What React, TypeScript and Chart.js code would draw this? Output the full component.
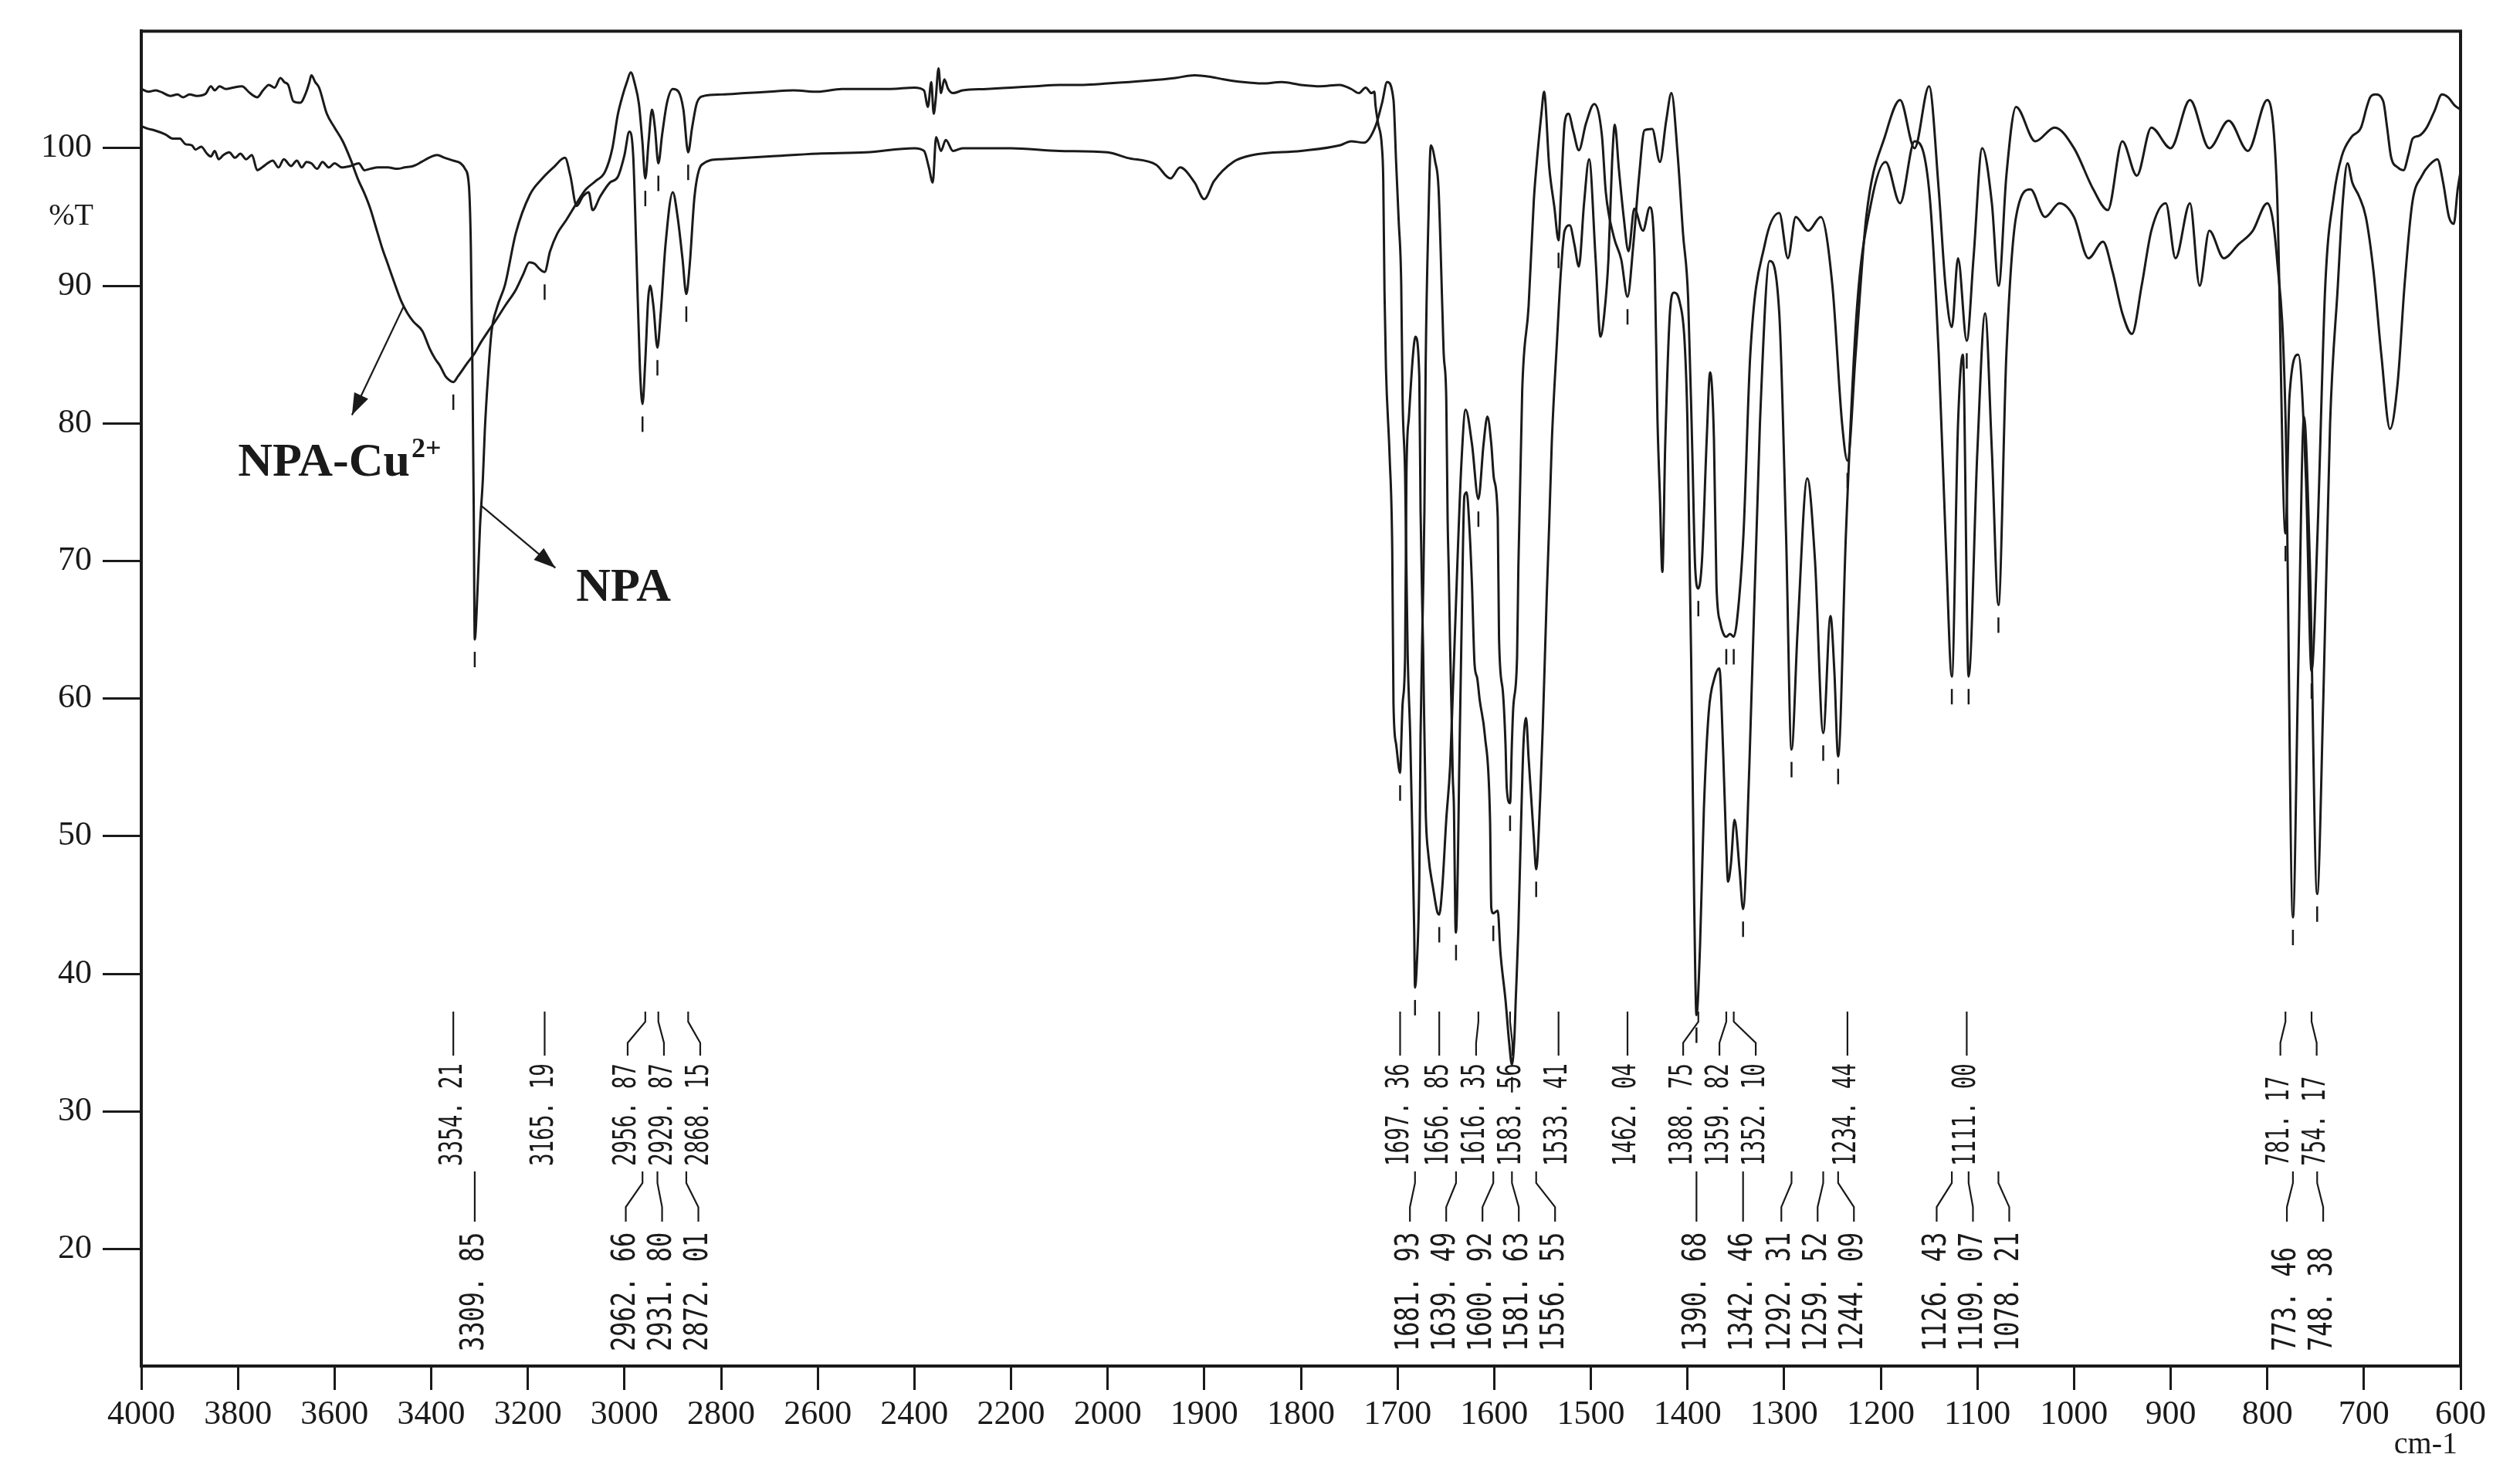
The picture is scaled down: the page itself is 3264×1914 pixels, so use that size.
import React, { useEffect, useRef } from "react";
import { Chart, registerables } from "chart.js";

Chart.register(...registerables);

// ---------- axis ticks ----------
const X_TICKS_WN = [4000, 3800, 3600, 3400, 3200, 3000, 2800, 2600, 2400, 2200, 2000, 1900, 1800, 1700, 1600, 1500, 1400, 1300, 1200, 1100, 1000, 900, 800, 700, 600];
const Y_TICKS = [20, 30, 40, 50, 60, 70, 80, 90, 100];

// ---------- series: [wavenumber cm-1, %T] ----------
const NPA_CU: [number, number][] = [
  [4000, 104.3], [3985, 104.1], [3970, 104.2], [3957, 104.05], [3940, 103.8], [3925, 103.9], [3914, 103.7], [3900, 103.9],
  [3885, 103.8], [3867, 103.95], [3856, 104.5], [3848, 104.2], [3838, 104.5], [3825, 104.3], [3810, 104.4], [3792, 104.5],
  [3775, 104.0], [3760, 103.7], [3748, 104.2], [3736, 104.6], [3724, 104.4], [3712, 105.1], [3704, 104.8], [3696, 104.6],
  [3685, 103.4], [3671, 103.3], [3659, 104.05], [3652, 104.8], [3648, 105.3], [3640, 104.8], [3632, 104.4], [3616, 102.5],
  [3600, 101.5], [3583, 100.5], [3567, 99.2], [3551, 97.7], [3538, 96.7], [3526, 95.6], [3514, 94.2], [3502, 92.8],
  [3490, 91.6], [3478, 90.4], [3461, 88.8], [3449, 88.0], [3437, 87.4], [3418, 86.7], [3404, 85.5], [3392, 84.7],
  [3382, 84.2], [3370, 83.4], [3361, 83.1], [3354.21, 83.0], [3345, 83.4], [3325, 84.4], [3310, 85.1], [3297, 85.9],
  [3282, 86.7], [3268, 87.4], [3246, 88.6], [3225, 89.7], [3210, 90.8], [3197, 91.7], [3186, 91.6], [3175, 91.2],
  [3165.19, 91.0], [3154, 92.5], [3139, 93.8], [3120, 94.8], [3099, 96.0], [3080, 97.0], [3060, 97.6], [3040, 98.3],
  [3025, 100.0], [3014, 102.4], [3004, 103.8], [2995, 104.8], [2987, 105.5], [2978, 104.6], [2970, 103.2], [2963, 100.5],
  [2956.87, 97.8], [2950, 100.5], [2943, 102.8], [2937, 101.5], [2929.87, 98.9], [2922, 101], [2912, 103.3], [2900, 104.3],
  [2888, 104.1], [2878, 102.8], [2868.15, 99.7], [2860, 101.5], [2850, 103.3], [2835, 103.8], [2800, 103.9], [2750, 104.0],
  [2700, 104.1], [2650, 104.2], [2600, 104.1], [2550, 104.3], [2500, 104.3], [2450, 104.3], [2400, 104.4], [2380, 104.2],
  [2372, 103.0], [2365, 104.8], [2360, 102.5], [2356, 103.5], [2350, 105.8], [2345, 104.0], [2338, 105.0], [2330, 104.3],
  [2320, 104.0], [2300, 104.2], [2250, 104.3], [2200, 104.4], [2150, 104.5], [2100, 104.6], [2050, 104.6], [2000, 104.7],
  [1960, 104.9], [1930, 105.1], [1910, 105.3], [1895, 105.2], [1880, 105.0], [1860, 104.8], [1840, 104.7], [1820, 104.8],
  [1800, 104.6], [1780, 104.5], [1760, 104.6], [1748, 104.3], [1740, 104.0], [1733, 104.4], [1727, 104.0], [1724, 104.1],
  [1722.8, 103.1], [1720.1, 101.8], [1716.2, 100.1], [1714.8, 97.7], [1713.5, 89.5], [1712, 84], [1708.2, 77.6], [1705.5, 70.8],
  [1704.2, 59.6], [1701.5, 56.7], [1697.36, 54.6], [1696.2, 56.7], [1694.8, 59.6], [1692.2, 63.1], [1690.8, 76.3], [1688.2, 80.5],
  [1684, 85], [1681.5, 86.3], [1677.5, 83.4], [1676.2, 73.7], [1673.5, 63.4], [1670.9, 51.9], [1668.2, 48.7], [1662.9, 46.1],
  [1658.9, 44.5], [1656.85, 44.3], [1653.6, 46.4], [1649.6, 51.2], [1645.6, 55.1], [1642.9, 60.2], [1638, 70], [1634, 77],
  [1629.6, 81.0], [1623, 78.5], [1616.35, 74.5], [1611, 78.5], [1607, 80.5], [1603, 78.5], [1600.3, 76], [1596.3, 73.1],
  [1595, 64.4], [1591, 60.5], [1588.3, 56.7], [1587, 53.5], [1583.56, 52.4], [1581.7, 56.7], [1580.3, 59.3], [1576.3, 63.1],
  [1575, 69.5], [1571, 82.4], [1564.4, 88.5], [1559, 96.2], [1556.4, 98.6], [1551, 102.6], [1548.4, 104.1], [1543, 98.6],
  [1537.7, 95.7], [1533.41, 93.3], [1531, 96.5], [1527.1, 101.8], [1523.1, 102.5], [1518, 101.2], [1512.4, 99.85], [1505, 101.8],
  [1496.5, 103.2], [1488.5, 100.9], [1484.5, 96.8], [1476, 93.5], [1468.5, 91.9], [1462.04, 89.2], [1456, 93], [1450, 98],
  [1444.5, 101.3], [1436.5, 101.4], [1428.5, 99.0], [1422, 102], [1416.6, 104.0], [1410, 99.4], [1404.6, 93.8], [1399.3, 89.1],
  [1395, 78], [1392, 69.5], [1388.75, 68], [1385, 70], [1380, 79], [1376.6, 83.7], [1372.6, 78.9], [1370, 68.3], [1366, 65.5],
  [1362, 64.6], [1359.82, 64.5], [1356, 64.7], [1352.1, 64.5], [1348.7, 65.7], [1342, 72], [1335, 85], [1320, 93], [1305, 95.3],
  [1296, 92], [1288, 95], [1275, 94], [1262, 95], [1250, 90], [1240, 80], [1234.44, 77.3], [1226, 85], [1215, 95], [1195, 101],
  [1180, 103.5], [1165, 100], [1150, 104.5], [1140, 97], [1133, 90], [1126.43, 87], [1120, 92], [1111.0, 86], [1104, 92],
  [1095, 100], [1085, 96], [1078, 90], [1070, 98], [1060, 103], [1040, 100.5], [1020, 101.5], [1000, 100], [980, 97],
  [965, 95.5], [950, 100.5], [935, 98], [920, 101.5], [900, 100], [880, 103.5], [860, 100], [840, 102], [820, 99.8],
  [800, 103.5], [790, 97], [781.17, 72], [777, 82], [768, 85], [760, 76], [754.17, 62], [748, 72], [740, 90], [731, 96.6],
  [723, 99.4], [713, 100.8], [703, 101.5], [697, 103], [693.5, 103.7], [688, 103.9], [680, 103.4], [676, 101.5], [672, 99.4],
  [665, 98.6], [659, 98.4], [654, 99.5], [649.5, 100.7], [643, 100.9], [635, 101.5], [627, 102.7], [619.3, 103.9], [613, 103.7],
  [606, 103.1], [600, 102.8],
];

const NPA: [number, number][] = [
  [4000, 101.6], [3985, 101.4], [3973, 101.3], [3950, 101.0], [3935, 100.7], [3920, 100.7], [3909, 100.3], [3895, 100.2],
  [3888, 99.9], [3876, 100.1], [3864, 99.6], [3856, 99.4], [3848, 99.8], [3840, 99.2], [3830, 99.5], [3818, 99.7],
  [3806, 99.3], [3795, 99.6], [3783, 99.2], [3771, 99.5], [3760, 98.4], [3750, 98.6], [3739, 98.9], [3728, 99.1],
  [3716, 98.6], [3705, 99.2], [3690, 98.7], [3678, 99.1], [3668, 98.6], [3658, 99.0], [3648, 98.9], [3636, 98.5],
  [3625, 99.0], [3612, 98.6], [3600, 98.9], [3585, 98.6], [3567, 98.7], [3550, 98.9], [3538, 98.4], [3526, 98.5],
  [3510, 98.6], [3490, 98.6], [3470, 98.5], [3455, 98.6], [3437, 98.7], [3420, 99.0], [3405, 99.3], [3388, 99.5],
  [3372, 99.3], [3355, 99.1], [3339, 98.9], [3330, 98.5], [3322, 97.3], [3318, 93], [3315, 85], [3312, 74],
  [3309.85, 64.3], [3304, 68], [3299, 72.5], [3293, 76], [3289, 79.5], [3283, 83.1], [3275, 86.7], [3264, 88.4],
  [3247, 90.1], [3225, 93.8], [3196, 96.6], [3170, 97.8], [3147, 98.6], [3123, 99.3], [3112, 98.0], [3099, 95.8],
  [3086, 96.5], [3074, 96.8], [3066, 95.5], [3050, 96.5], [3030, 97.5], [3014, 97.9], [3000, 99.5], [2990, 101.2],
  [2982, 99.5], [2975, 92], [2968, 84], [2962.66, 81.4], [2957, 84.5], [2951, 89], [2947, 90], [2940, 88.5],
  [2931.8, 85.5], [2925, 88], [2915, 93], [2900, 96.8], [2890, 95], [2880, 92], [2872.01, 89.4], [2865, 91.5],
  [2855, 96.5], [2840, 98.8], [2800, 99.2], [2700, 99.4], [2600, 99.6], [2500, 99.7], [2400, 100.0], [2380, 99.8],
  [2370, 98.6], [2362, 97.5], [2355, 100.8], [2345, 99.8], [2335, 100.6], [2320, 99.8], [2300, 100.0], [2200, 100.0],
  [2100, 99.8], [2000, 99.7], [1980, 99.3], [1950, 98.8], [1935, 97.8], [1925, 98.6], [1910, 97.5], [1900, 96.3],
  [1890, 97.6], [1870, 99.0], [1850, 99.5], [1800, 99.8], [1760, 100.2], [1748, 100.5], [1734.8, 100.4], [1722.8, 101.6],
  [1716, 103.3], [1710.8, 104.8], [1704.2, 103.5], [1701.5, 99.0], [1698.8, 94.7], [1696.2, 90.1], [1694.8, 81.8],
  [1692.2, 76.3], [1690.9, 69.9], [1689.5, 63.1], [1686.9, 57.3], [1684.2, 48.3], [1682.8, 43.2], [1681.93, 39.0],
  [1680.2, 40.5], [1677.5, 47.0], [1676.2, 57.3], [1673.5, 67.9], [1672.2, 73.7], [1670.9, 84.3], [1668, 95], [1665.6, 100.2],
  [1661, 99], [1657.6, 97.1], [1653.6, 88.2], [1652.2, 85], [1649.6, 81.8], [1648.2, 73.1], [1646.9, 68.9], [1645.6, 63.8],
  [1644.2, 59.3], [1642.9, 54.4], [1641.6, 51.9], [1640.2, 43.8], [1639.49, 43.0], [1637.6, 48], [1636.3, 54.4],
  [1633.6, 65.7], [1630.9, 74.7], [1628.5, 75], [1625.6, 72.4], [1623, 68.3], [1620.3, 62.5], [1617.6, 61.5], [1615, 59.9],
  [1609.6, 57.3], [1604.3, 51.2], [1603, 44.8], [1600.92, 44.4], [1596.3, 44.6], [1593.6, 41.6], [1588.3, 38.1],
  [1584.5, 35], [1581.63, 33.4], [1579, 35.5], [1577.7, 38.1], [1575, 43.2], [1572.3, 50.6], [1569.7, 56.7], [1567, 58.6],
  [1564.4, 55.7], [1561.7, 52.8], [1559, 49.9], [1556.55, 47.6], [1552.4, 52.8], [1549.7, 58], [1545.7, 67.3], [1543, 72.8],
  [1540.4, 78.6], [1535, 86], [1531, 91], [1527.1, 94], [1521.8, 94.4], [1517, 93], [1512.4, 91.4], [1507, 96],
  [1501.8, 99.2], [1495, 91.9], [1490, 86.3], [1486, 88], [1481.8, 91.9], [1478, 99], [1475.2, 101.7], [1471, 98.5],
  [1466, 95], [1461, 92.5], [1455, 95.6], [1446, 94.0], [1439, 95.7], [1434, 91.9], [1431, 80.2], [1428.5, 74.7],
  [1426, 69.2], [1423, 78.5], [1418, 88.2], [1414, 89.5], [1408, 88.8], [1403, 86], [1400, 80], [1396, 62], [1393, 45],
  [1390.68, 37.0], [1387, 42], [1383, 52], [1378, 59], [1372, 61.5], [1367, 62.2], [1363, 56], [1360, 49.5], [1358, 46.7],
  [1355, 48], [1351.3, 51.2], [1346, 47.5], [1342.46, 44.7], [1336, 55], [1325, 80], [1315, 91.8], [1305, 88], [1298, 72],
  [1292.31, 56.3], [1286, 65], [1276, 76], [1268, 70], [1259.52, 57.5], [1252, 66], [1248, 62], [1244.09, 55.8], [1236, 72],
  [1225, 88], [1210, 96], [1195, 99], [1180, 96], [1165, 100.5], [1150, 97], [1140, 85], [1132, 70], [1126.43, 61.6],
  [1120, 80], [1115, 85], [1109.07, 61.6], [1100, 78], [1092, 88], [1085, 78], [1078.21, 66.8], [1070, 85], [1060, 95],
  [1045, 97], [1030, 95], [1015, 96], [1000, 95], [985, 92], [970, 93.2], [960, 91], [950, 88], [940, 86.5], [930, 90],
  [920, 94], [905, 96], [895, 92], [880, 96], [870, 90], [860, 94], [845, 92], [830, 93], [815, 94], [800, 96], [790, 92],
  [781, 80], [773.46, 44.1], [768, 62], [762, 80.5], [756, 70], [748.38, 45.8], [742, 60], [735, 80], [727, 90], [722, 96],
  [717, 98.9], [712, 97.5], [705, 96.5], [698, 95], [690, 91], [682, 85], [673, 79.6], [665, 83], [658, 90], [650, 96],
  [640, 98], [632, 98.8], [624, 99.2], [618, 97.5], [612, 95], [607, 94.5], [603, 97], [600, 98.3],
];

// ---------- peak picks (upper row: NPA-Cu2+, lower row: NPA) ----------
const NPA_CU_PEAKS = [3354.21, 3165.19, 2956.87, 2929.87, 2868.15, 1697.36, 1656.85, 1616.35, 1583.56, 1533.41, 1462.04, 1388.75, 1359.82, 1352.1, 1234.44, 1111.0, 781.17, 754.17];
const NPA_PEAKS = [3309.85, 2962.66, 2931.8, 2872.01, 1681.93, 1639.49, 1600.92, 1581.63, 1556.55, 1390.68, 1342.46, 1292.31, 1259.52, 1244.09, 1126.43, 1109.07, 1078.21, 773.46, 748.38];

const SERIES_LABELS = ["NPA-Cu", "NPA"];

// wavenumber axis: 4000-2000 drawn at half the scale of 2000-600
const toU = (wn: number) => (wn >= 2000 ? (4000 - wn) / 2 : 1000 + (2000 - wn));
const fromU = (u: number) => (u <= 1000 ? 4000 - 2 * u : 2000 - (u - 1000));

const toXY = (arr: [number, number][]) =>
  arr.map(([wn, t]) => ({ x: toU(wn), y: t })).sort((a, b) => a.x - b.x);

function interpT(arr: [number, number][], wn: number) {
  const pts = toXY(arr);
  const u = toU(wn);
  for (let i = 0; i < pts.length - 1; i++) {
    if (pts[i].x <= u && pts[i + 1].x >= u) {
      const f = (u - pts[i].x) / (pts[i + 1].x - pts[i].x || 1);
      return pts[i].y + f * (pts[i + 1].y - pts[i].y);
    }
  }
  return pts[pts.length - 1].y;
}

function fmtPeak(wn: number) {
  return wn.toFixed(2).replace(".", ". ");
}

function spread(xs: number[], gap: number) {
  const clusters = xs.map((x) => ({ members: [x], start: x }));
  let changed = true;
  while (changed) {
    changed = false;
    for (let i = 0; i < clusters.length - 1; i++) {
      const a = clusters[i];
      const b = clusters[i + 1];
      if (a.start + a.members.length * gap > b.start) {
        const members = a.members.concat(b.members);
        const mean = members.reduce((s, v) => s + v, 0) / members.length;
        clusters.splice(i, 2, { members, start: mean - ((members.length - 1) * gap) / 2 });
        changed = true;
        break;
      }
    }
  }
  const out: number[] = [];
  clusters.forEach((c) => c.members.forEach((_, i) => out.push(c.start + i * gap)));
  return out;
}

const INK = "#1a1a1a";

function drawArrow(ctx: CanvasRenderingContext2D, x1: number, y1: number, x2: number, y2: number) {
  ctx.beginPath();
  ctx.moveTo(x1, y1);
  ctx.lineTo(x2, y2);
  ctx.lineWidth = 2.2;
  ctx.stroke();
  const ang = Math.atan2(y2 - y1, x2 - x1);
  const L = 28, W = 10;
  ctx.beginPath();
  ctx.moveTo(x2, y2);
  ctx.lineTo(x2 - L * Math.cos(ang) + W * Math.sin(ang), y2 - L * Math.sin(ang) - W * Math.cos(ang));
  ctx.lineTo(x2 - L * Math.cos(ang) - W * Math.sin(ang), y2 - L * Math.sin(ang) + W * Math.cos(ang));
  ctx.closePath();
  ctx.fill();
}

const overlay = {
  id: "irOverlay",
  afterDraw(chart: any) {
    const { ctx, chartArea: a } = chart;
    const x = chart.scales.x;
    const y = chart.scales.y;
    ctx.save();
    ctx.strokeStyle = INK;
    ctx.fillStyle = INK;
    ctx.lineWidth = 4;
    ctx.strokeRect(a.left, a.top, a.right - a.left, a.bottom - a.top);

    // axis captions
    ctx.font = "40px 'Liberation Serif'";
    ctx.textAlign = "right";
    ctx.textBaseline = "middle";
    ctx.fillText("%T", a.left - 62, y.getPixelForValue(95));
    ctx.fillText("cm-1", a.right - 4, a.bottom + 102);

    // peak rows
    const rows = [
      { series: NPA_CU, peaks: NPA_CU_PEAKS, lt: 1310, lb: 1367, ts: 1510, size: 40, squeeze: 0.69 },
      { series: NPA, peaks: NPA_PEAKS, lt: 1517, lb: 1582, ts: 1750, size: 43, squeeze: 0.745 },
    ];
    rows.forEach((row) => {
      const px = row.peaks.map((wn) => x.getPixelForValue(toU(wn)));
      const lx = spread(px, 47);
      row.peaks.forEach((wn, i) => {
        // pick marker under the band minimum
        const py = y.getPixelForValue(interpT(row.series, wn));
        ctx.lineWidth = 2.5;
        ctx.beginPath();
        ctx.moveTo(px[i], py + 16);
        ctx.lineTo(px[i], py + 36);
        ctx.stroke();
        // leader
        const h = row.lb - row.lt;
        ctx.lineWidth = 2.2;
        ctx.beginPath();
        ctx.moveTo(px[i], row.lt);
        ctx.lineTo(px[i], row.lt + h * 0.23);
        ctx.lineTo(lx[i], row.lt + h * 0.71);
        ctx.lineTo(lx[i], row.lb);
        ctx.stroke();
        // text
        ctx.save();
        ctx.translate(lx[i], row.ts);
        ctx.rotate(-Math.PI / 2);
        ctx.scale(row.squeeze, 1);
        ctx.font = `${row.size}px 'DejaVu Sans Mono'`;
        ctx.textAlign = "left";
        ctx.textBaseline = "middle";
        ctx.fillText(fmtPeak(wn), 0, 0);
        ctx.restore();
      });
    });

    // series annotations
    const bold = "bold 62px 'Liberation Serif'";
    ctx.font = bold;
    ctx.textAlign = "left";
    ctx.textBaseline = "alphabetic";
    const cuX = x.getPixelForValue(toU(3800));
    const cuY = y.getPixelForValue(76.2);
    ctx.fillText(SERIES_LABELS[0], cuX, cuY);
    const w = ctx.measureText(SERIES_LABELS[0]).width;
    ctx.font = "bold 36px 'Liberation Serif'";
    ctx.fillText("2+", cuX + w + 2, cuY - 24);
    ctx.font = bold;
    ctx.fillText(SERIES_LABELS[1], x.getPixelForValue(toU(3100)), y.getPixelForValue(67.1));

    drawArrow(ctx, x.getPixelForValue(toU(3457)), y.getPixelForValue(88.5), x.getPixelForValue(toU(3564)), y.getPixelForValue(80.6));
    drawArrow(ctx, x.getPixelForValue(toU(3296)), y.getPixelForValue(74.0), x.getPixelForValue(toU(3143)), y.getPixelForValue(69.5));
    ctx.restore();
  },
};

export default function App() {
  const ref = useRef<HTMLCanvasElement | null>(null);
  useEffect(() => {
    document.body.style.margin = "0";
    const canvas = ref.current!;
    const tickFont = { family: "'Liberation Serif'", size: 44 };
    const chart = new Chart(canvas, {
      type: "line",
      data: {
        datasets: [
          { label: SERIES_LABELS[0], data: toXY(NPA_CU), borderColor: INK, borderWidth: 3, pointRadius: 0, cubicInterpolationMode: "monotone" },
          { label: SERIES_LABELS[1], data: toXY(NPA), borderColor: INK, borderWidth: 3, pointRadius: 0, cubicInterpolationMode: "monotone" },
        ],
      },
      options: {
        animation: false,
        responsive: false,
        devicePixelRatio: 1,
        parsing: false,
        layout: { padding: { left: 0, top: 38, right: 77, bottom: 0 } },
        plugins: { legend: { display: false }, tooltip: { enabled: false } },
        scales: {
          x: {
            type: "linear",
            min: 0,
            max: 2400,
            afterBuildTicks: (s: any) => { s.ticks = X_TICKS_WN.map((wn) => ({ value: toU(wn) })); },
            afterFit: (s: any) => { s.height = 145; },
            ticks: { font: tickFont, color: INK, padding: 6, maxRotation: 0, autoSkip: false, callback: (v: any) => String(Math.round(fromU(Number(v)))) },
            grid: { drawOnChartArea: false, drawTicks: true, tickLength: 31, tickWidth: 3, tickColor: INK },
            border: { display: true, color: INK, width: 4 },
          },
          y: {
            type: "linear",
            min: 11.5,
            max: 108.5,
            afterBuildTicks: (s: any) => { s.ticks = Y_TICKS.map((v) => ({ value: v })); },
            afterFit: (s: any) => { s.width = 183; },
            ticks: { font: tickFont, color: INK, padding: 14 },
            grid: { drawOnChartArea: false, drawTicks: true, tickLength: 50, tickWidth: 3, tickColor: INK },
            border: { display: true, color: INK, width: 4 },
          },
        },
      },
      plugins: [overlay],
    } as any);
    return () => chart.destroy();
  }, []);
  return (
    <div style={{ position: "absolute", left: 0, top: 0, width: 3264, height: 1914, background: "#fff" }}>
      <canvas ref={ref} width={3264} height={1914} style={{ width: 3264, height: 1914, display: "block" }} />
    </div>
  );
}
